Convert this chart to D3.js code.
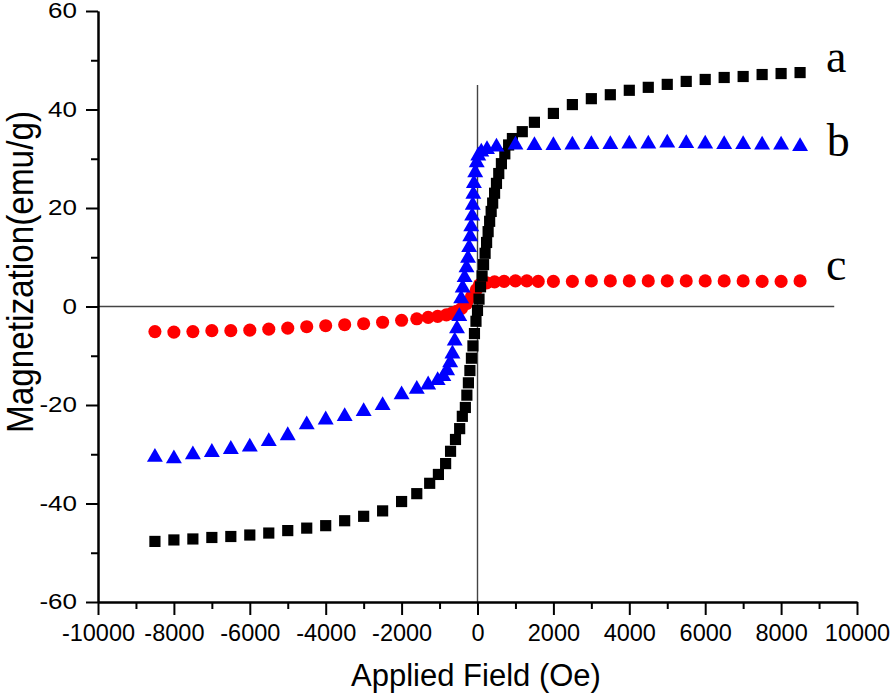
<!DOCTYPE html>
<html><head><meta charset="utf-8">
<script src="https://cdn.jsdelivr.net/npm/d3@7"></script>
<style>body{margin:0;background:#fff} svg{display:block}</style>
</head><body><svg id="c" width="890" height="693"></svg>
<script>
// ---- data ----
const xMajorTicks = [-10000,-8000,-6000,-4000,-2000,0,2000,4000,6000,8000,10000];
const xMinorTicks = [-9000,-7000,-5000,-3000,-1000,1000,3000,5000,7000,9000];
const yMajorTicks = [-60,-40,-20,0,20,40,60];
const yMinorTicks = [-50,-30,-10,10,30,50];
const xTitle = "Applied Field (Oe)";
const yTitle = "Magnetization(emu/g)";

// series a: black squares [field (Oe), magnetization (emu/g)]
const seriesA = [[-8500,-47.7],[-8000,-47.4],[-7500,-47.2],[-7000,-46.9],[-6500,-46.7],[-6000,-46.4],[-5500,-46.0],[-5000,-45.5],[-4500,-45.0],[-4000,-44.5],[-3500,-43.5],[-3000,-42.6],[-2500,-41.5],[-2000,-39.6],[-1600,-38.0],[-1260,-35.9],[-1030,-34.1],[-840,-31.9],[-710,-29.4],[-580,-27.0],[-470,-24.8],[-400,-22.3],[-320,-20.5],[-280,-18],[-240,-15.5],[-200,-13],[-160,-10.5],[-120,-8],[-80,-5.5],[-40,-3],[0,-0.8],[40,1.5],[80,4],[120,6.2],[160,8.5],[200,10.8],[240,13],[280,15.2],[320,17.3],[360,19.3],[400,21],[450,23],[500,25],[560,27],[630,29],[720,31],[820,32.8],[920,34.1],[1180,35.5],[1500,37.4],[2000,39.2],[2500,41.0],[3000,42.2],[3500,43.0],[4000,43.9],[4500,44.5],[5000,45.1],[5500,45.7],[6000,46.1],[6500,46.5],[7000,46.7],[7500,47.1],[8000,47.3],[8500,47.5]];
// series b: blue triangles
const seriesB = [[-8500,-30.6],[-8000,-30.9],[-7500,-30.1],[-7000,-29.6],[-6500,-29.0],[-6000,-28.5],[-5500,-27.4],[-5000,-26.2],[-4500,-24.0],[-4000,-23.0],[-3500,-22.3],[-3000,-21.3],[-2500,-20.1],[-2000,-17.9],[-1600,-16.8],[-1300,-15.9],[-1050,-15.0],[-900,-14.2],[-800,-13.0],[-720,-11.4],[-660,-9.6],[-600,-7.0],[-540,-4.5],[-480,-2.0],[-430,1.6],[-390,3.8],[-340,5.9],[-290,7.9],[-250,9.8],[-220,12.0],[-190,14.2],[-165,16.2],[-140,18.4],[-125,20.6],[-110,22.8],[-95,25.0],[-60,27.2],[-20,29.2],[20,30.6],[100,31.4],[250,31.9],[500,32.4],[1000,32.8],[1500,32.7],[2000,32.7],[2500,32.8],[3000,32.9],[3500,32.9],[4000,33.0],[4500,33.0],[5000,33.2],[5500,33.1],[6000,33.0],[6500,32.9],[7000,32.9],[7500,32.8],[8000,32.8],[8500,32.5]];
// series c: red circles
const seriesC = [[-8500,-5.1],[-8000,-5.2],[-7500,-5.1],[-7000,-4.9],[-6500,-4.9],[-6000,-4.8],[-5500,-4.6],[-5000,-4.4],[-4500,-4.1],[-4000,-3.9],[-3500,-3.7],[-3000,-3.5],[-2500,-3.2],[-2000,-2.8],[-1600,-2.5],[-1300,-2.2],[-1050,-2.0],[-820,-1.7],[-680,-1.4],[-550,-1.0],[-420,-0.4],[-290,0.6],[-160,2.0],[-30,3.4],[50,4.4],[240,4.8],[450,5.0],[700,5.1],[1000,5.2],[1300,5.2],[1600,5.1],[2000,5.1],[2500,5.1],[3000,5.2],[3500,5.2],[4000,5.2],[4500,5.2],[5000,5.2],[5500,5.2],[6000,5.2],[6500,5.2],[7000,5.2],[7500,5.1],[8000,5.1],[8500,5.2]];
// curve labels at data coordinates (baseline-left)
const curveLabels = [["a",9180,47.6],["b",9200,30.6],["c",9180,5.4]];
// reference cross lines (data coordinates)
const hLine = [[-10000,0],[9400,0]];
const vLine = [[0,45],[0,-60]];

// ---- drawing ----
const svg = d3.select("#c");
const x = d3.scaleLinear().domain([-10000,10000]).range([98,857]);
const y = d3.scaleLinear().domain([-60,60]).range([602,11]);
const X0 = 98, Y0 = 602;
const sans = "'Liberation Sans', Arial, sans-serif";
const fmt = d => String(d);

// cross lines
const line = d3.line().x(d=>x(d[0])).y(d=>y(d[1]));
svg.append("path").attr("d", line(hLine)).attr("stroke","#444").attr("stroke-width",1.4).attr("fill","none");
svg.append("path").attr("d", line(vLine)).attr("stroke","#444").attr("stroke-width",1.4).attr("fill","none");

// series
function drawSeries(data, type, size, color){
  const sym = d3.symbol().type(type).size(size);
  svg.append("g").selectAll("path").data(data).join("path")
    .attr("d", sym)
    .attr("transform", d=>`translate(${x(d[0])},${y(d[1])})`)
    .attr("fill", color);
}
drawSeries(seriesC, d3.symbolCircle, 135, "#ff0000");
drawSeries(seriesA, d3.symbolSquare, 125, "#000000");
drawSeries(seriesB, d3.symbolTriangle, 110, "#0000ff");

// axes
function styleAxis(g){
  g.selectAll("path.domain").attr("stroke","#000").attr("stroke-width",2);
  g.selectAll(".tick line").attr("stroke","#000").attr("stroke-width",2);
}
const gxMinor = svg.append("g").attr("transform",`translate(0,${Y0})`)
  .call(d3.axisBottom(x).tickValues(xMinorTicks).tickSize(7).tickSizeOuter(0).tickFormat(""));
styleAxis(gxMinor);
const gx = svg.append("g").attr("transform",`translate(0,${Y0})`)
  .call(d3.axisBottom(x).tickValues(xMajorTicks).tickSize(13).tickSizeOuter(0).tickPadding(9).tickFormat(fmt));
styleAxis(gx);
gx.selectAll(".tick text").attr("font-family",sans).attr("font-size",23.5).attr("fill","#000");

const gyMinor = svg.append("g").attr("transform",`translate(${X0},0)`)
  .call(d3.axisLeft(y).tickValues(yMinorTicks).tickSize(7).tickSizeOuter(0).tickFormat(""));
styleAxis(gyMinor);
const gy = svg.append("g").attr("transform",`translate(${X0},0)`)
  .call(d3.axisLeft(y).tickValues(yMajorTicks).tickSize(12).tickSizeOuter(0).tickPadding(9).tickFormat(fmt));
styleAxis(gy);
gy.selectAll(".tick text").attr("font-family",sans).attr("font-size",26).attr("fill","#000")
  .attr("transform","scale(1,0.82)");

// titles
svg.append("text").attr("x",476).attr("y",686).attr("text-anchor","middle")
  .attr("font-family",sans).attr("font-size",31).attr("fill","#000").text(xTitle);
svg.append("text").attr("transform","translate(33,272) rotate(-90) scale(0.9,1)")
  .attr("text-anchor","middle").attr("font-family",sans).attr("font-size",37).attr("fill","#000").text(yTitle);

// curve labels
svg.append("g").selectAll("text").data(curveLabels).join("text")
  .attr("x",d=>x(d[1])).attr("y",d=>y(d[2]))
  .attr("font-family","'Liberation Serif', 'Times New Roman', serif").attr("font-size",46).attr("fill","#000")
  .text(d=>d[0]);
</script></body></html>
